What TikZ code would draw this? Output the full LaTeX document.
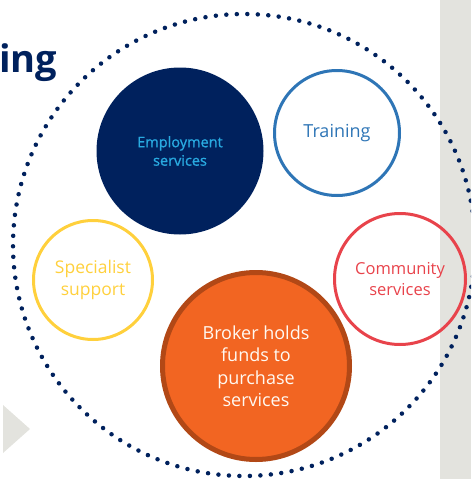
\documentclass[tikz,border=0pt]{standalone}
\usepackage{fontspec}
\setmainfont{Open Sans}
\newfontfamily\semibold[FakeBold=1]{Open Sans}
\usetikzlibrary{positioning}
\definecolor{navy}{RGB}{0,33,93}
\definecolor{skyblue}{RGB}{41,170,225}
\definecolor{ringblue}{RGB}{46,117,182}
\definecolor{ringyellow}{RGB}{255,208,60}
\definecolor{ringred}{RGB}{232,67,75}
\definecolor{brokerfill}{RGB}{242,101,34}
\definecolor{brokerrim}{RGB}{178,72,22}
\definecolor{panelgrey}{RGB}{227,227,222}
\tikzset{
  ring/.style={circle, draw, line width=3pt, align=center, inner sep=0pt},
  ringtext/.style={font=\fontsize{17.5}{21.5}\selectfont},
}

\begin{document}
\begin{tikzpicture}[x=1pt, y=-1pt]

  \clip (0,0) rectangle (471,479);
  \useasboundingbox (0,0) rectangle (471,479);

  %% background bits
  \fill[panelgrey] (440,0) rectangle (471,479);
  \fill[panelgrey] (3,405) -- (30,429) -- (3,453) -- cycle;

  %% heading (cut off at the left)
  \node[anchor=base west, inner sep=0pt, text=navy,
        font=\fontsize{38}{40}\selectfont\bfseries] (title) at (-1,72) {ing};

  %% dotted ring round everything
  \draw[navy, line width=4.5pt, line cap=round, dash pattern=on 0pt off 10.5pt]
    (244,245) circle[radius=231];

  %% the services
  \node[ring, navy, fill=navy, minimum size=164pt, text=skyblue,
        font=\fontsize{14.5}{18.5}\semibold] (emp) at (180,151) {Employment\\services};
  \node[ring, ringblue, minimum size=125pt, font=\fontsize{18}{22}\selectfont] (train) at (337,133) {Training};
  \node[ring, ringyellow, minimum size=119pt, ringtext] (spec) at (93,280) {Specialist\\support};
  \node[ring, ringred, minimum size=131pt,
        font=\fontsize{16.5}{21}\selectfont] (comm) at (400,279) {Community\\services};

  %% broker in the middle
  \node[ring, brokerrim, fill=brokerfill, line width=5pt, minimum size=187pt,
        text=white!95!orange, font=\fontsize{18}{22.5}\selectfont]
    (broker) at (256,366) {Broker holds\\funds to\\purchase\\services};

\end{tikzpicture}
\end{document}
